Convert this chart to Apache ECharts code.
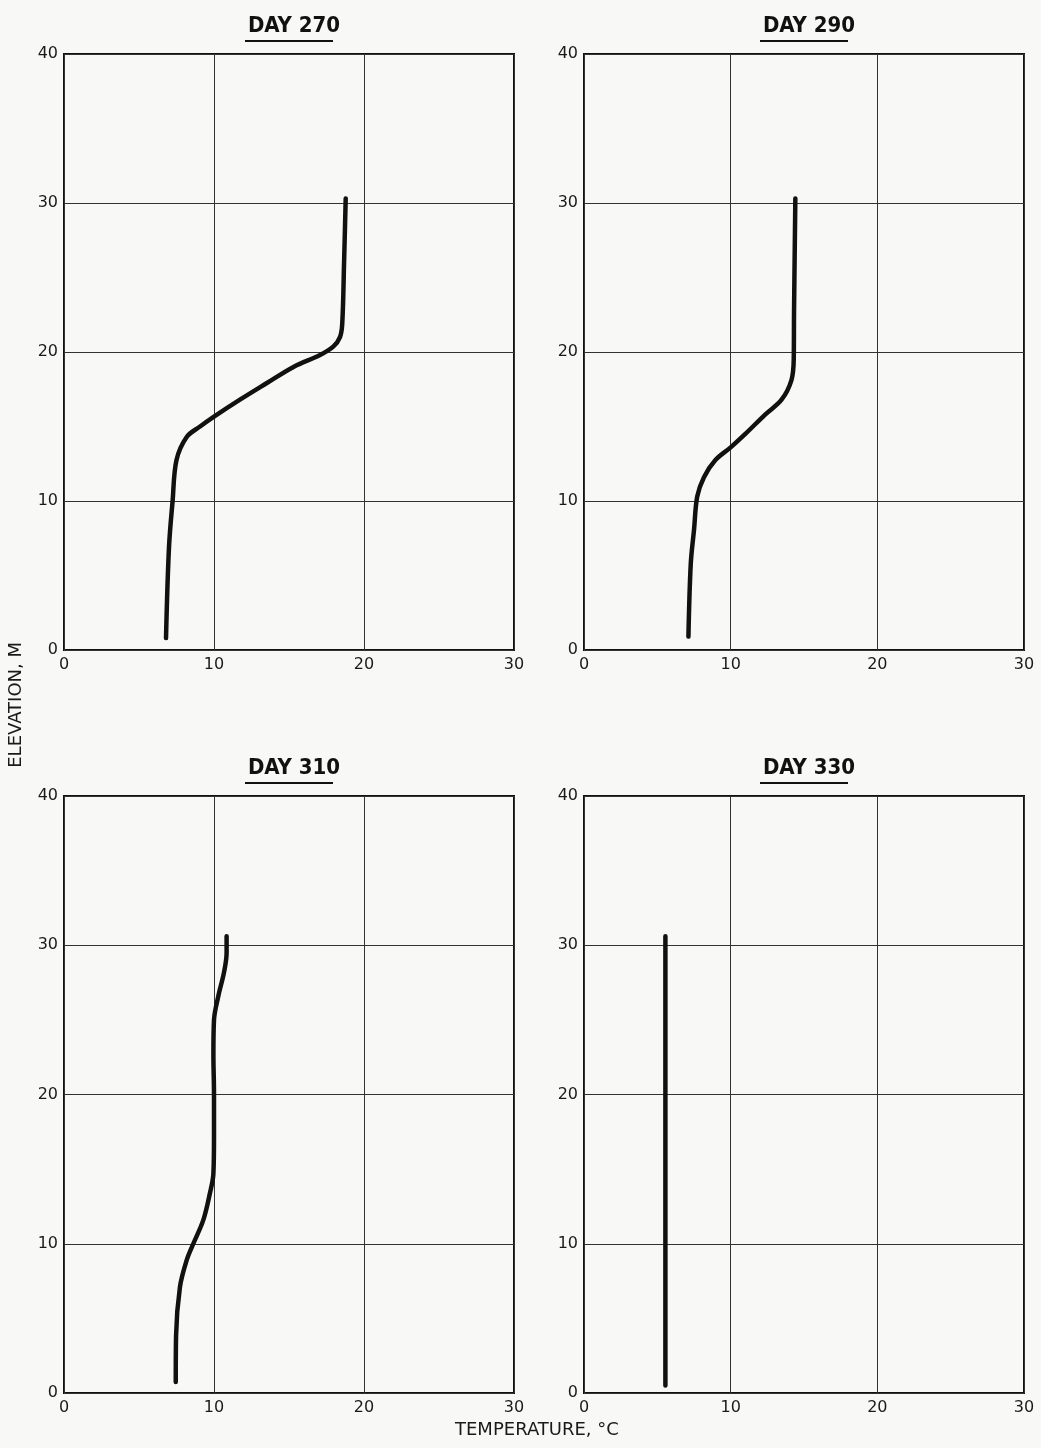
<!DOCTYPE html>
<html>
<head>
<meta charset="utf-8">
<script src="https://cdn.jsdelivr.net/npm/echarts@6/dist/echarts.min.js"></script>
<style>
html,body{margin:0;padding:0;background:#f8f8f6;}
#c{width:1041px;height:1448px;}
</style>
</head>
<body>
<div id="c"></div>
<script>
// Panel titles
const titles = ['DAY 270', 'DAY 290', 'DAY 310', 'DAY 330'];
// Axis ticks
const xTicks = [0, 10, 20, 30];
const yTicks = [0, 10, 20, 30, 40];
// Temperature (°C) / elevation (m) profiles
const day270Temp = [6.8, 7.0, 7.24, 7.5, 8.18, 9.07, 10.0, 11.73, 13.5, 15.3, 17.07, 17.95, 18.4, 18.55, 18.67, 18.78];
const day270Elev = [0.8, 6.9, 10.0, 12.75, 14.3, 15.0, 15.66, 16.8, 17.9, 19.0, 19.8, 20.36, 21.0, 21.9, 25.95, 30.3];
const day290Temp = [7.12, 7.28, 7.5, 7.72, 8.18, 8.96, 10.0, 11.0, 12.35, 13.47, 14.14, 14.3, 14.32, 14.41];
const day290Elev = [0.9, 5.8, 8.05, 10.3, 11.6, 12.75, 13.6, 14.5, 15.8, 16.8, 18.1, 19.5, 22.6, 30.3];
const day310Temp = [7.45, 7.47, 7.73, 8.18, 8.62, 9.29, 9.73, 9.96, 10.0, 10.0, 9.96, 10.0, 10.29, 10.67, 10.84, 10.84];
const day310Elev = [0.74, 3.8, 7.1, 8.9, 10.0, 11.6, 13.4, 14.7, 17.2, 20.0, 22.7, 25.0, 26.6, 28.2, 29.5, 30.6];
const day330Temp = [5.55, 5.55, 5.55];
const day330Elev = [0.5, 15.0, 30.6];

const temps = [day270Temp, day290Temp, day310Temp, day330Temp];
const elevs = [day270Elev, day290Elev, day310Elev, day330Elev];

const grids = [
  {left: 64, top: 54, width: 450, height: 596},
  {left: 584, top: 54, width: 440, height: 596},
  {left: 64, top: 796, width: 450, height: 597},
  {left: 584, top: 796, width: 440, height: 597}
];

const font = 'DejaVu Sans';
const chart = echarts.init(document.getElementById('c'), null, {renderer: 'canvas'});

const option = {
  backgroundColor: '#f8f8f6',
  animation: false,
  grid: grids.map(g => Object.assign({show: true, borderColor: '#111', borderWidth: 2, backgroundColor: 'transparent'}, g)),
  xAxis: grids.map((g, i) => ({
    type: 'value', gridIndex: i, min: xTicks[0], max: xTicks[xTicks.length - 1], interval: 10,
    axisLine: {show: false}, axisTick: {show: false},
    splitLine: {show: true, lineStyle: {color: '#333', width: 1}},
    axisLabel: {color: '#1a1a1a', fontFamily: font, fontSize: 16, margin: 7, showMaxLabel: true, showMinLabel: true}
  })),
  yAxis: grids.map((g, i) => ({
    type: 'value', gridIndex: i, min: yTicks[0], max: yTicks[yTicks.length - 1], interval: 10,
    axisLine: {show: false}, axisTick: {show: false},
    splitLine: {show: true, lineStyle: {color: '#333', width: 1}},
    axisLabel: {color: '#1a1a1a', fontFamily: font, fontSize: 16, margin: 6}
  })),
  title: grids.map((g, i) => ({
    text: titles[i], left: g.left + g.width / 2, top: g.top - 44, textAlign: 'center',
    textStyle: {fontFamily: 'DejaVu Sans Condensed, DejaVu Sans', fontWeight: 'bold', fontSize: 22, color: '#111'}
  })),
  graphic: [
    ...grids.map(g => ({
      type: 'line', silent: true,
      shape: {x1: g.left + g.width / 2 - 44, y1: g.top - 13, x2: g.left + g.width / 2 + 44, y2: g.top - 13},
      style: {stroke: '#111', lineWidth: 2}
    })),
    {type: 'text', left: 7, top: 642, rotation: Math.PI / 2, silent: true,
     style: {text: 'ELEVATION, M', fill: '#1a1a1a', font: '18px "DejaVu Sans"'}},
    {type: 'text', left: 455, top: 1421, silent: true,
     style: {text: 'TEMPERATURE, °C', fill: '#1a1a1a', font: '18px "DejaVu Sans"'}}
  ],
  series: temps.map((t, i) => ({
    type: 'line', xAxisIndex: i, yAxisIndex: i, smooth: 0.35, symbol: 'none',
    lineStyle: {color: '#111', width: 4.5, cap: 'round'},
    data: t.map((v, k) => [v, elevs[i][k]])
  }))
};
chart.setOption(option);
</script>
</body>
</html>
